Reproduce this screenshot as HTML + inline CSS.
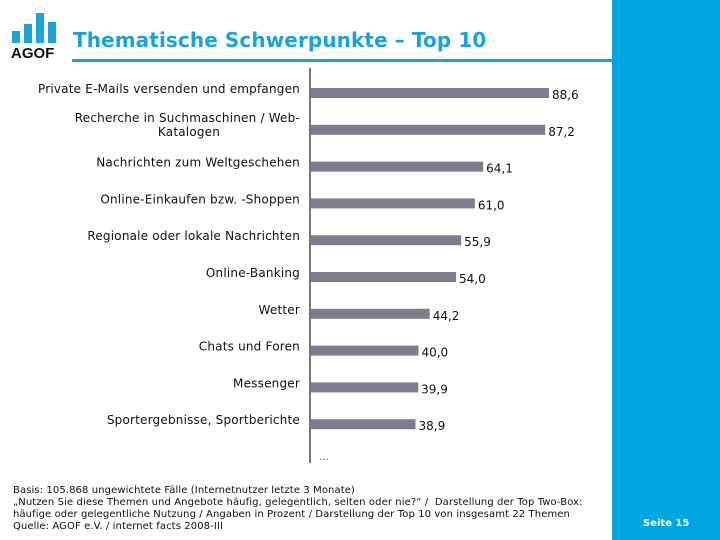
<!DOCTYPE html>
<html><head><meta charset="utf-8"><style>
body{margin:0;width:720px;height:540px;position:relative;background:#fff;font-family:"Liberation Sans","DejaVu Sans",sans-serif;overflow:hidden}
#side{position:absolute;left:612px;top:0;width:108px;height:540px;background:#00a6e0}
#title{position:absolute;left:73px;top:28px;font-size:20px;font-weight:bold;color:#1aa3d8;font-family:"DejaVu Sans",sans-serif;letter-spacing:0.1px}
#rule{position:absolute;left:72px;top:59px;width:540px;height:3px;background:#1aa3d8}
.foot{position:absolute;left:13px;font-size:10px;color:#111;font-family:"DejaVu Sans",sans-serif;letter-spacing:0.1px}
#page{position:absolute;left:643px;top:518px;font-size:10px;font-weight:bold;color:#fff;font-family:"DejaVu Sans",sans-serif}
</style></head><body>
<div id="side"></div>
<svg width="70" height="62" style="position:absolute;left:0;top:0">
<rect x="12" y="31" width="8" height="12" fill="#1aa3d8"/><rect x="24" y="24" width="8" height="19" fill="#1aa3d8"/><rect x="36" y="13" width="8" height="30" fill="#1aa3d8"/><rect x="48" y="22" width="8" height="21" fill="#1aa3d8"/>
<text x="11" y="58" font-family="Liberation Sans" font-weight="bold" font-size="15" fill="#111">AGOF</text></svg>
<div id="title">Thematische Schwerpunkte – Top 10</div>
<div id="rule"></div>
<svg id="chart" width="612" height="480" style="position:absolute;left:0;top:0"></svg>
<div class="foot" style="top:485px">Basis: 105.868 ungewichtete Fälle (Internetnutzer letzte 3 Monate)</div>
<div class="foot" style="top:497px">„Nutzen Sie diese Themen und Angebote häufig, gelegentlich, selten oder nie?“ /&nbsp; Darstellung der Top Two-Box:</div>
<div class="foot" style="top:509px">häufige oder gelegentliche Nutzung / Angaben in Prozent / Darstellung der Top 10 von insgesamt 22 Themen</div>
<div class="foot" style="top:521px">Quelle: AGOF e.V. / internet facts 2008-III</div>
<div id="page">Seite 15</div>
<script>
const categories=[["Private E-Mails versenden und empfangen"],["Recherche in Suchmaschinen / Web-","Katalogen"],["Nachrichten zum Weltgeschehen"],["Online-Einkaufen bzw. -Shoppen"],["Regionale oder lokale Nachrichten"],["Online-Banking"],["Wetter"],["Chats und Foren"],["Messenger"],["Sportergebnisse, Sportberichte"]];
const values=[88.6,87.2,64.1,61.0,55.9,54.0,44.2,40.0,39.9,38.9];
const valueLabels=["88,6","87,2","64,1","61,0","55,9","54,0","44,2","40,0","39,9","38,9"];
const NS="http://www.w3.org/2000/svg";
const svg=document.getElementById('chart');
const x0=311, scale=2.686, y0=93, step=36.8;
const xs=v=>x0+v*scale;
const yc=i=>y0+i*step;
function mk(t,a){const e=document.createElementNS(NS,t);for(const k in a)e.setAttribute(k,a[k]);svg.appendChild(e);return e;}
values.forEach((v,i)=>{
 const r=mk('rect',{x:x0,y:yc(i)-5,width:xs(v)-x0,height:10,fill:'#7c7c8f'});
 
 
 const t=mk('text',{x:xs(v)+3,y:yc(i)+6,'font-size':12,fill:'#111','font-family':'DejaVu Sans'});
 t.textContent=valueLabels[i];
 
 
 const lines=categories[i];
 lines.forEach((s,j)=>{
  const c=mk('text',{x:300,y:yc(i)-(lines.length===2?8:0)+j*14,'text-anchor':'end','font-size':12,fill:'#111','font-family':'DejaVu Sans','letter-spacing':'0.2'});
  if(lines.length===2){c.setAttribute('x',j===1?189:300);c.setAttribute('text-anchor',j===1?'middle':'end');}
  c.textContent=s;
  
  
 });
});
const ax=mk('line',{x1:310,y1:68,x2:310,y2:463,stroke:'#777','stroke-width':2});


const d=mk('text',{x:319,y:460,'font-size':10,fill:'#333'});d.textContent='…';


</script>
</body></html>
